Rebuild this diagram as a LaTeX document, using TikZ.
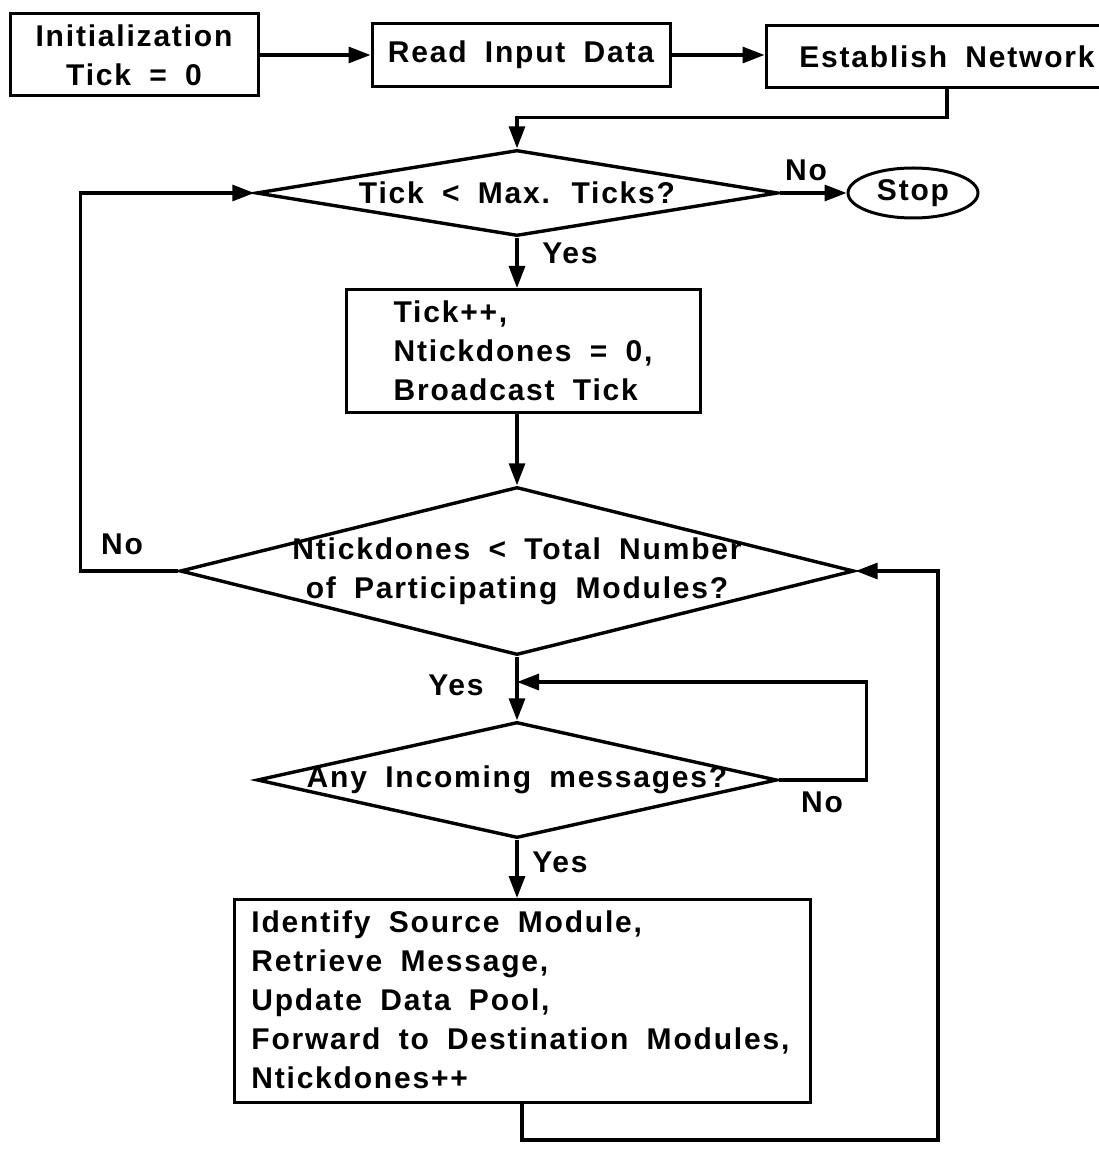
\documentclass[tikz,border=0pt]{standalone}
\usepackage{fontspec}
\setmainfont{Liberation Sans}[LetterSpace=6, WordSpace=1.8]
\usetikzlibrary{shapes.geometric,arrows.meta,calc}

\tikzset{
  every node/.style={font=\fontsize{15}{19.5}\selectfont\bfseries},
  stepbox/.style={draw, line width=1.5pt, rectangle, inner sep=0pt},
  test/.style={draw, line width=1.7pt, diamond, inner sep=0pt},
  lbl/.style={inner sep=0pt},
  arr/.style={line width=1.6pt, -{Triangle[length=11pt, width=8pt]}},
  link/.style={line width=1.6pt}
}

\begin{document}
\begin{tikzpicture}[x=0.5pt, y=-0.5pt]
  \useasboundingbox (0,0) rectangle (1098,1149);

  % Top row: set-up steps
  \node[stepbox, minimum width=124pt, minimum height=41pt, align=center] (init) at (134,55) {Initialization\\Tick = 0};
  \node[stepbox, minimum width=149pt, minimum height=31.5pt] (read) at (521,55) {Read Input Data};
  \node[stepbox, minimum width=181pt, minimum height=31pt] (net) at (947,57) {Establish Network\hspace{22pt}};

  % Tick loop
  \node[test, minimum width=261pt, minimum height=43pt] (q1) at (517,193) {};
  \node[lbl] (q1t) at (q1) {Tick < Max. Ticks?};
  \node[draw, line width=1.5pt, ellipse, minimum width=65pt, minimum height=25pt, inner sep=0pt] (stop) at (913,193) {Stop};
  \node[stepbox, minimum width=177pt, minimum height=61.5pt, align=left] (tick) at (523,351) {Tick++,\\Ntickdones = 0,\\Broadcast Tick};

  % Module loop
  \node[test, minimum width=337pt, minimum height=84pt] (q2) at (517,571) {};
  \node[lbl, align=center] (q2t) at (q2) {Ntickdones < Total Number\\of Participating Modules?};
  \node[test, minimum width=260pt, minimum height=58pt] (q3) at (517,780) {};
  \node[lbl] (q3t) at (q3) {Any Incoming messages?};
  \node[stepbox, minimum width=288pt, minimum height=101.5pt] (proc) at (522,1001) {};
  \node[lbl, anchor=north west, align=left] (proct) at (251,910) {Identify Source Module,\\Retrieve Message,\\Update Data Pool,\\Forward to Destination Modules,\\Ntickdones++};

  % Branch labels
  \foreach \n/\x/\y/\t in {no1/806/170/No, yes1/570/253/Yes, no2/122/544/No,
                           yes2/456/685/Yes, no3/822/802/No, yes3/560/862/Yes} {
    \node[lbl] (\n) at (\x,\y) {\t};
  }

  \coordinate (merge) at (q2.south |- 0,682);
  \coordinate (back) at (938,1140);

  % Connectors
  \draw[arr] (init.east) -- (read.west);
  \draw[arr] (read.east) -- (read.east -| net.west);
  \draw[arr] (net.south) -- ++(0,28) -| (q1.north);
  \draw[arr] (q1.east) -- (stop.west);
  \draw[arr] (q1.south) -- (q1.south |- tick.north);
  \draw[arr] (q1.south |- tick.south) -- (q2.north);
  \draw[arr] (q2.west) -- ++(-98,0) |- (q1.west);
  \draw[arr] (q2.south) -- (q3.north);
  \draw[arr] (q3.east) -- ++(88,0) |- (merge);
  \draw[arr] (q3.south) -- (q3.south |- proc.north);
  \draw[arr] (proc.south) |- (back) |- (q2.east);
\end{tikzpicture}
\end{document}
